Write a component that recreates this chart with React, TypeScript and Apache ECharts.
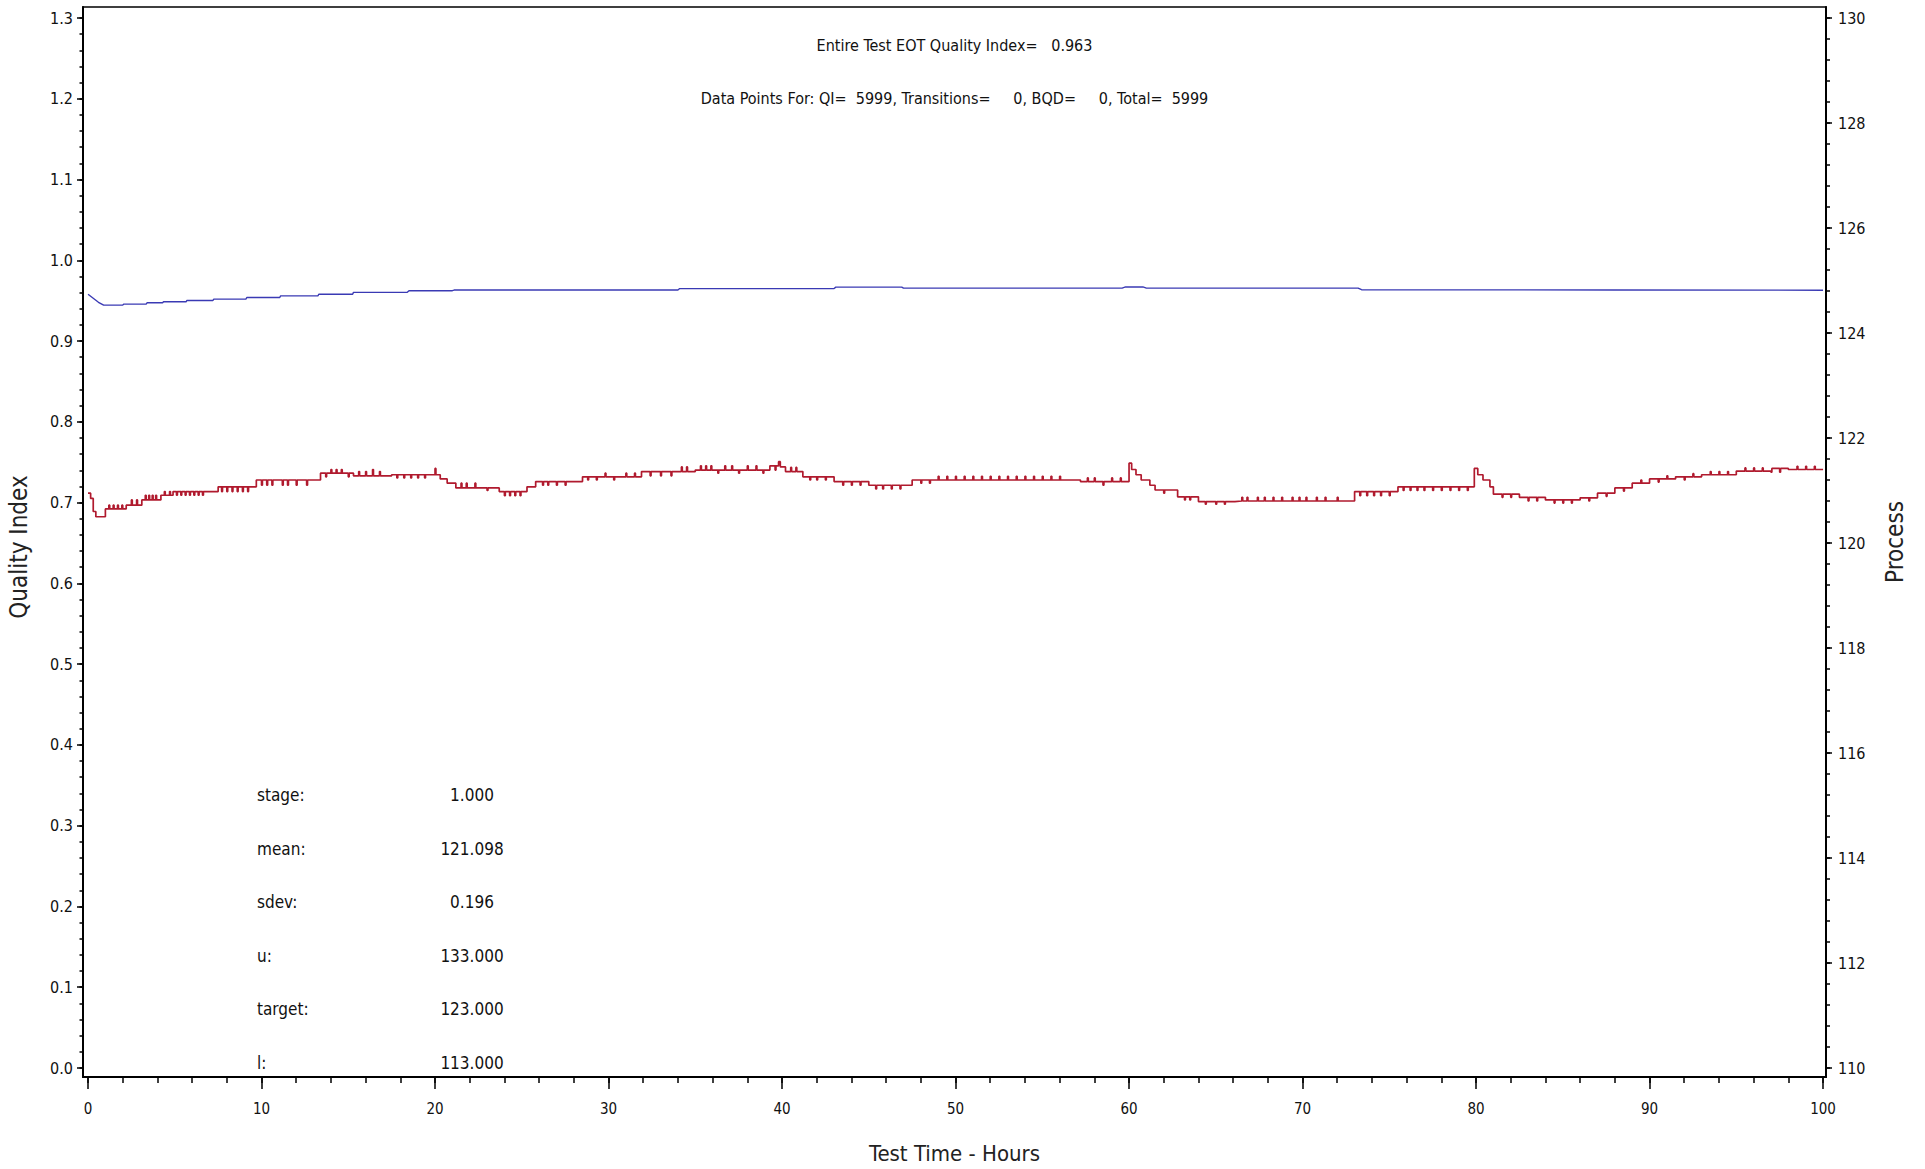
import React, { useEffect, useRef } from "react";
import * as echarts from "echarts";

// ---- data ----
const hoursTicks = [0, 10, 20, 30, 40, 50, 60, 70, 80, 90, 100];
const qiTicks = [0, 0.1, 0.2, 0.3, 0.4, 0.5, 0.6, 0.7, 0.8, 0.9, 1.0, 1.1, 1.2, 1.3];
const processTicks = [110, 112, 114, 116, 118, 120, 122, 124, 126, 128, 130];

const headerLines = [
  "Entire Test EOT Quality Index=   0.963",
  "Data Points For: QI=  5999, Transitions=     0, BQD=     0, Total=  5999",
];
const statLabels = ["stage:", "mean:", "sdev:", "u:", "target:", "l:"];
const statValues = ["1.000", "121.098", "0.196", "133.000", "123.000", "113.000"];

// Quality index (left axis)
const qiSeries: [number, number][] = [
  [0, 0.958], [0.3, 0.953], [0.6, 0.948], [0.9, 0.9445], [2.0, 0.9445], [2.05, 0.9457],
  [3.35, 0.9457], [3.4, 0.9474], [4.3, 0.9474], [4.35, 0.9486], [5.65, 0.9486], [5.7, 0.9503],
  [7.2, 0.9503], [7.25, 0.952], [9.1, 0.952], [9.15, 0.954], [11.05, 0.954], [11.1, 0.956],
  [13.25, 0.956], [13.3, 0.958], [15.25, 0.958], [15.3, 0.9603], [18.4, 0.9603], [18.5, 0.9624],
  [21.0, 0.9624], [21.1, 0.9632], [34.0, 0.9632], [34.1, 0.965], [43.0, 0.965], [43.1, 0.9668],
  [46.9, 0.9668], [47.0, 0.9655], [59.6, 0.9655], [59.8, 0.967], [60.8, 0.967], [61.0, 0.9655],
  [73.2, 0.9655], [73.4, 0.9636], [88.0, 0.9632], [100, 0.963],
];

// Process (right axis), step line
const processSeries: [number, number][] = [
  [0, 120.95], [0.15, 120.85], [0.3, 120.6], [0.45, 120.5], [1.0, 120.65],
  [1.2, 120.72], [1.25, 120.65], [1.45, 120.72], [1.5, 120.65], [1.7, 120.72], [1.75, 120.65], [1.95, 120.72], [2.0, 120.65],
  [2.2, 120.72], [2.5, 120.82], [2.55, 120.72], [2.8, 120.82], [2.85, 120.72],
  [3.1, 120.82], [3.3, 120.91], [3.35, 120.82], [3.5, 120.91], [3.55, 120.82], [3.7, 120.91], [3.75, 120.82], [3.9, 120.91], [3.95, 120.82],
  [4.2, 120.91], [4.4, 120.98], [4.45, 120.91], [4.7, 120.98], [4.75, 120.91],
  [4.9, 120.98], [5.1, 120.91], [5.15, 120.98], [5.35, 120.91], [5.4, 120.98], [5.6, 120.91], [5.65, 120.98], [5.85, 120.91], [5.9, 120.98],
  [6.1, 120.91], [6.15, 120.98], [6.35, 120.91], [6.4, 120.98], [6.6, 120.91], [6.65, 120.98],
  [7.5, 121.07], [7.7, 120.98], [7.75, 121.07], [8.0, 120.98], [8.05, 121.07], [8.3, 120.98], [8.35, 121.07], [8.6, 120.98], [8.65, 121.07],
  [8.9, 120.98], [8.95, 121.07], [9.2, 120.98], [9.25, 121.07],
  [9.7, 121.2], [10.0, 121.1], [10.05, 121.2], [10.3, 121.1], [10.35, 121.2], [10.6, 121.1], [10.65, 121.2], [11.2, 121.1], [11.25, 121.2],
  [11.5, 121.1], [11.55, 121.2], [12.0, 121.1], [12.05, 121.2], [12.6, 121.1], [12.65, 121.2],
  [13.4, 121.33], [13.7, 121.26], [13.75, 121.33], [14.0, 121.4], [14.05, 121.33], [14.3, 121.4], [14.35, 121.33], [14.6, 121.4], [14.65, 121.33],
  [15.0, 121.26], [15.05, 121.33],
  [15.3, 121.28], [15.6, 121.36], [15.65, 121.28], [16.0, 121.36], [16.05, 121.28], [16.4, 121.4], [16.45, 121.28], [16.8, 121.36], [16.85, 121.28],
  [17.5, 121.3], [17.8, 121.24], [17.85, 121.3], [18.2, 121.24], [18.25, 121.3], [18.6, 121.24], [18.65, 121.3], [19.0, 121.24], [19.05, 121.3],
  [19.4, 121.24], [19.45, 121.3],
  [20.0, 121.42], [20.05, 121.3], [20.3, 121.22], [20.7, 121.14], [21.2, 121.05],
  [21.5, 121.14], [21.55, 121.05], [21.8, 121.14], [21.85, 121.05], [22.3, 121.14], [22.35, 121.05], [23.0, 121.0], [23.05, 121.05],
  [23.7, 120.98], [24.0, 120.9], [24.05, 120.98], [24.3, 120.9], [24.35, 120.98], [24.6, 120.9], [24.65, 120.98], [24.9, 120.9], [24.95, 120.98],
  [25.3, 121.07], [25.8, 121.17], [26.2, 121.1], [26.25, 121.17], [26.5, 121.1], [26.55, 121.17], [27.0, 121.1], [27.05, 121.17],
  [27.5, 121.1], [27.55, 121.17],
  [28.5, 121.26], [28.8, 121.2], [28.85, 121.26], [29.3, 121.2], [29.35, 121.26], [29.8, 121.33], [29.85, 121.26], [30.3, 121.2], [30.35, 121.26],
  [31.0, 121.33], [31.05, 121.26], [31.5, 121.33], [31.55, 121.26],
  [31.9, 121.36], [32.4, 121.28], [32.45, 121.36], [33.0, 121.28], [33.05, 121.36], [33.6, 121.28], [33.65, 121.36], [34.2, 121.45], [34.25, 121.36],
  [34.5, 121.45], [34.55, 121.36],
  [35.0, 121.39], [35.3, 121.47], [35.35, 121.39], [35.6, 121.47], [35.65, 121.39], [35.9, 121.47], [35.95, 121.39], [36.3, 121.33], [36.35, 121.39],
  [36.7, 121.47], [36.75, 121.39], [37.1, 121.47], [37.15, 121.39], [37.5, 121.33], [37.55, 121.39], [38.0, 121.47], [38.05, 121.39],
  [38.5, 121.47], [38.55, 121.39], [38.9, 121.33], [38.95, 121.39],
  [39.3, 121.47], [39.6, 121.39], [39.65, 121.47], [39.8, 121.55], [39.9, 121.45],
  [40.2, 121.36], [40.5, 121.44], [40.55, 121.36], [40.8, 121.44], [40.85, 121.36],
  [41.2, 121.26], [41.6, 121.2], [41.65, 121.26], [42.0, 121.2], [42.05, 121.26], [42.5, 121.2], [42.55, 121.26],
  [43.0, 121.17], [43.5, 121.1], [43.55, 121.17], [44.0, 121.1], [44.05, 121.17], [44.5, 121.1], [44.55, 121.17],
  [45.0, 121.1], [45.4, 121.03], [45.45, 121.1], [45.8, 121.03], [45.85, 121.1], [46.3, 121.03], [46.35, 121.1], [46.8, 121.03], [46.85, 121.1],
  [47.5, 121.2], [48.0, 121.14], [48.05, 121.2], [48.5, 121.14], [48.55, 121.2], [49.0, 121.27], [49.05, 121.2], [49.5, 121.27], [49.55, 121.2],
  [50.0, 121.27], [50.05, 121.2], [50.5, 121.27], [50.55, 121.2], [51.0, 121.27], [51.05, 121.2], [51.5, 121.27], [51.55, 121.2],
  [52.0, 121.27], [52.05, 121.2], [52.5, 121.27], [52.55, 121.2], [53.0, 121.27], [53.05, 121.2], [53.5, 121.27], [53.55, 121.2],
  [54.0, 121.27], [54.05, 121.2], [54.5, 121.27], [54.55, 121.2], [55.0, 121.27], [55.05, 121.2], [55.5, 121.27], [55.55, 121.2],
  [56.0, 121.27], [56.05, 121.2],
  [57.2, 121.17], [57.6, 121.24], [57.65, 121.17], [58.0, 121.24], [58.05, 121.17], [58.5, 121.1], [58.55, 121.17], [59.0, 121.24], [59.05, 121.17],
  [59.5, 121.24], [59.55, 121.17],
  [60.0, 121.52], [60.15, 121.4], [60.4, 121.3], [60.7, 121.2], [61.2, 121.1], [61.5, 121.01], [62.0, 120.95], [62.05, 121.01],
  [62.8, 120.88], [63.2, 120.82], [63.25, 120.88], [63.5, 120.82], [63.55, 120.88],
  [64.0, 120.79], [64.4, 120.74], [64.45, 120.79], [65.0, 120.74], [65.05, 120.79], [65.5, 120.74], [65.55, 120.79],
  [66.1, 120.8], [66.5, 120.87], [66.55, 120.8], [66.8, 120.87], [66.85, 120.8], [67.4, 120.87], [67.45, 120.8], [67.8, 120.87], [67.85, 120.8],
  [68.3, 120.87], [68.35, 120.8], [68.8, 120.87], [68.85, 120.8], [69.4, 120.87], [69.45, 120.8], [69.8, 120.87], [69.85, 120.8],
  [70.2, 120.87], [70.25, 120.8], [70.8, 120.87], [70.85, 120.8], [71.3, 120.87], [71.35, 120.8], [72.0, 120.87], [72.05, 120.8],
  [73.0, 120.98], [73.3, 120.9], [73.35, 120.98], [73.7, 120.9], [73.75, 120.98], [74.1, 120.9], [74.15, 120.98], [74.5, 120.9], [74.55, 120.98],
  [75.0, 120.9], [75.05, 120.98],
  [75.5, 121.07], [75.8, 121.0], [75.85, 121.07], [76.2, 121.0], [76.25, 121.07], [76.6, 121.0], [76.65, 121.07], [77.0, 121.0], [77.05, 121.07],
  [77.5, 121.0], [77.55, 121.07], [78.0, 121.0], [78.05, 121.07], [78.5, 121.0], [78.55, 121.07], [79.0, 121.0], [79.05, 121.07],
  [79.5, 121.0], [79.55, 121.07],
  [79.9, 121.42], [80.1, 121.3], [80.4, 121.2], [80.8, 121.07], [81.0, 120.93], [81.5, 120.87], [81.55, 120.93], [82.0, 120.87], [82.05, 120.93],
  [82.5, 120.87], [83.0, 120.8], [83.05, 120.87], [83.5, 120.8], [83.55, 120.87],
  [84.0, 120.82], [84.5, 120.76], [84.55, 120.82], [85.0, 120.76], [85.05, 120.82], [85.5, 120.76], [85.55, 120.82],
  [86.0, 120.86], [86.5, 120.8], [86.55, 120.86], [87.0, 120.95], [87.5, 120.89], [87.55, 120.95], [88.0, 121.05], [88.5, 120.99], [88.55, 121.05],
  [89.0, 121.14], [89.5, 121.2], [89.55, 121.14],
  [90.0, 121.22], [90.5, 121.16], [90.55, 121.22], [91.0, 121.28], [91.05, 121.22], [91.5, 121.26], [92.0, 121.2], [92.05, 121.26],
  [92.5, 121.32], [92.55, 121.26],
  [93.0, 121.3], [93.5, 121.36], [93.55, 121.3], [94.0, 121.36], [94.05, 121.3], [94.5, 121.36], [94.55, 121.3],
  [95.0, 121.37], [95.5, 121.43], [95.55, 121.37], [96.0, 121.43], [96.05, 121.37], [96.5, 121.43], [96.55, 121.37],
  [97.0, 121.35], [97.05, 121.42], [97.5, 121.35], [97.55, 121.42], [98.0, 121.4], [98.5, 121.46], [98.55, 121.4],
  [99.0, 121.46], [99.05, 121.4], [99.5, 121.46], [99.55, 121.4], [100, 121.4],
];

// ---- layout / style ----
const FONT = "'Liberation Sans Narrow', 'DejaVu Sans Condensed', 'Liberation Sans', sans-serif";
const GRID = { left: 83, right: 99, top: 7, bottom: 92 };
const X_MIN = -0.29, X_MAX = 100.17;
const QI_MIN = -0.01114, QI_MAX = 1.31362;
const P_MIN = 109.829, P_MAX = 130.21;

const range = (a: number, b: number, step: number) => {
  const out: number[] = [];
  for (let i = 0; a + i * step <= b + 1e-9; i++) out.push(+(a + i * step).toFixed(4));
  return out;
};

export default function App() {
  const ref = useRef<HTMLDivElement>(null);
  useEffect(() => {
    if (!ref.current) return;
    const chart = echarts.init(ref.current, null, { renderer: "svg" });
    const axisColor = "#000";
    const lbl = { color: "#111", fontFamily: FONT, fontSize: 16 };
    const plotCx = (GRID.left + (1925 - GRID.right)) / 2;
    const plotCy = (GRID.top + (1169 - GRID.bottom)) / 2;

    const graphics: any[] = [];
    headerLines.forEach((t, i) => {
      graphics.push({
        type: "text", x: plotCx, y: 45 + i * 53,
        style: { text: t, fill: "#111", font: `16px ${FONT}`, align: "center", verticalAlign: "middle" },
      });
    });
    statLabels.forEach((t, i) => {
      graphics.push({
        type: "text", x: 257, y: 795 + i * 53.6,
        style: { text: t, fill: "#111", font: `17px ${FONT}`, align: "left", verticalAlign: "middle" },
      });
      graphics.push({
        type: "text", x: 472, y: 795 + i * 53.6,
        style: { text: statValues[i], fill: "#111", font: `17px ${FONT}`, align: "center", verticalAlign: "middle" },
      });
    });
    graphics.push({
      type: "text", x: plotCx, y: 1153,
      style: { text: "Test Time - Hours", fill: "#222", font: `22px ${FONT}`, align: "center", verticalAlign: "middle" },
    });
    graphics.push({
      type: "text", x: 19, y: plotCy + 5, rotation: Math.PI / 2,
      style: { text: "Quality Index", fill: "#222", font: `24px ${FONT}`, align: "center", verticalAlign: "middle" },
    });
    graphics.push({
      type: "text", x: 1895, y: plotCy, rotation: Math.PI / 2,
      style: { text: "Process", fill: "#222", font: `24px ${FONT}`, align: "center", verticalAlign: "middle" },
    });

    chart.setOption({
      animation: false,
      backgroundColor: "#fff",
      grid: { ...GRID, show: true, borderColor: axisColor, borderWidth: 1.5, backgroundColor: "transparent" },
      xAxis: [
        {
          type: "value", min: X_MIN, max: X_MAX, position: "bottom",
          axisLine: { show: true, onZero: false, lineStyle: { color: axisColor, width: 2 } },
          axisTick: { show: true, customValues: hoursTicks, length: 12, lineStyle: { color: axisColor, width: 1.5 } },
          axisLabel: { customValues: hoursTicks, margin: 24, ...lbl, fontSize: 15 },
          splitLine: { show: false },
        },
        {
          type: "value", min: X_MIN, max: X_MAX, position: "bottom",
          axisLine: { show: false, onZero: false },
          axisTick: { show: true, customValues: range(0, 100, 2), length: 6, lineStyle: { color: axisColor, width: 1.5 } },
          axisLabel: { show: false },
          splitLine: { show: false },
        },
      ],
      yAxis: [
        {
          type: "value", min: QI_MIN, max: QI_MAX, position: "left",
          axisLine: { show: true, onZero: false, lineStyle: { color: axisColor, width: 2 } },
          axisTick: { show: true, customValues: qiTicks, length: 6, lineStyle: { color: axisColor, width: 1.5 } },
          axisLabel: { customValues: qiTicks, margin: 10, ...lbl, formatter: (v: number) => v.toFixed(1) },
          splitLine: { show: false },
        },
        {
          type: "value", min: QI_MIN, max: QI_MAX, position: "left",
          axisLine: { show: false, onZero: false },
          axisTick: { show: true, customValues: range(0, 1.3, 0.02), length: 3.5, lineStyle: { color: axisColor, width: 1.5 } },
          axisLabel: { show: false },
          splitLine: { show: false },
        },
        {
          type: "value", min: P_MIN, max: P_MAX, position: "right",
          axisLine: { show: true, onZero: false, lineStyle: { color: axisColor, width: 2 } },
          axisTick: { show: true, customValues: processTicks, length: 6, lineStyle: { color: axisColor, width: 1.5 } },
          axisLabel: { customValues: processTicks, margin: 12, ...lbl },
          splitLine: { show: false },
        },
        {
          type: "value", min: P_MIN, max: P_MAX, position: "right",
          axisLine: { show: false, onZero: false },
          axisTick: { show: true, customValues: range(110, 130, 0.4), length: 4, lineStyle: { color: axisColor, width: 1.5 } },
          axisLabel: { show: false },
          splitLine: { show: false },
        },
      ],
      series: [
        {
          name: "Quality Index", type: "line", xAxisIndex: 0, yAxisIndex: 0,
          data: qiSeries, showSymbol: false, symbol: "none",
          lineStyle: { color: "#3a3ab4", width: 1.4 },
        },
        {
          name: "Process", type: "line", xAxisIndex: 0, yAxisIndex: 2,
          data: processSeries, showSymbol: false, symbol: "none", step: "end",
          lineStyle: { color: "#b01a2e", width: 1.7 },
        },
      ],
      graphic: graphics,
    });
    return () => chart.dispose();
  }, []);
  return (
    <div
      ref={ref}
      style={{ position: "absolute", left: 0, top: 0, width: 1925, height: 1169, background: "#fff" }}
    />
  );
}
